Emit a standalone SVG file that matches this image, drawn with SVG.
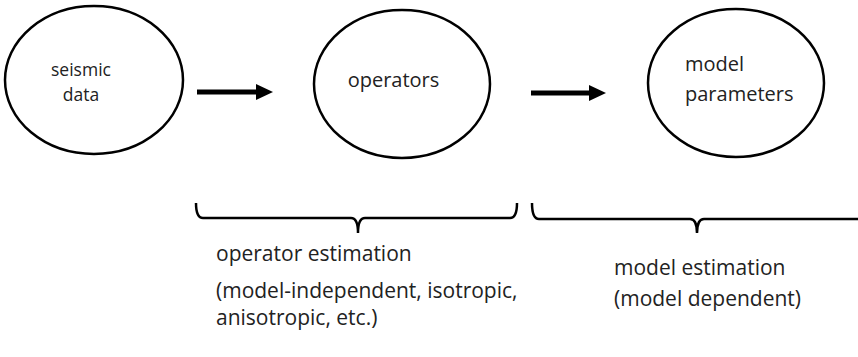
<svg xmlns="http://www.w3.org/2000/svg" width="858" height="357" viewBox="0 0 858 357">
<style>
.node{fill:#fff;stroke:#000;stroke-width:2.5}
.t{font-family:"Open Sans","Liberation Sans",sans-serif;fill:#222}
.s{font-size:17.5px}
.n{font-size:20px}
.b{font-size:21px}
.conn{stroke:#000;stroke-width:5;fill:none}
.brace{stroke:#000;stroke-width:2.5;fill:none}
</style>
<rect width="858" height="357" fill="#fff"/>
<g id="seismic-data">
<ellipse class="node" cx="94" cy="80" rx="89" ry="74"/>
<text class="t s" x="81" y="76" text-anchor="middle">seismic</text>
<text class="t s" x="81" y="101" text-anchor="middle">data</text>
</g>
<g id="operators">
<ellipse class="node" cx="402" cy="84" rx="88" ry="74"/>
<text class="t n" x="393.5" y="87" text-anchor="middle">operators</text>
</g>
<g id="model-parameters">
<ellipse class="node" cx="736" cy="83" rx="88" ry="74"/>
<text class="t n" x="685" y="71">model</text>
<text class="t n" x="685" y="101">parameters</text>
</g>
<g id="connectors">
<line class="conn" x1="197" y1="92" x2="258" y2="92"/>
<polygon points="256,84 273,92 256,100" fill="#000"/>
<line class="conn" x1="531" y1="93" x2="591" y2="93"/>
<polygon points="589,85 606,93 589,101" fill="#000"/>
</g>
<g id="operator-estimation">
<path class="brace" d="M196,203 Q196,218 203,218 L351,218 Q358,218 358,233 Q358,218 365,218 L510,218 Q517,218 517,203"/>
<text class="t b" x="216" y="261">operator estimation</text>
<text class="t b" x="216" y="298">(model-independent, isotropic,</text>
<text class="t b" x="216" y="325">anisotropic, etc.)</text>
</g>
<g id="model-estimation">
<path class="brace" d="M532,203 Q532,219 539,219 L690,219 Q697,219 697,233 Q697,219 704,219 L862,219"/>
<text class="t b" x="614" y="275">model estimation</text>
<text class="t b" x="614" y="306">(model dependent)</text>
</g>
</svg>
